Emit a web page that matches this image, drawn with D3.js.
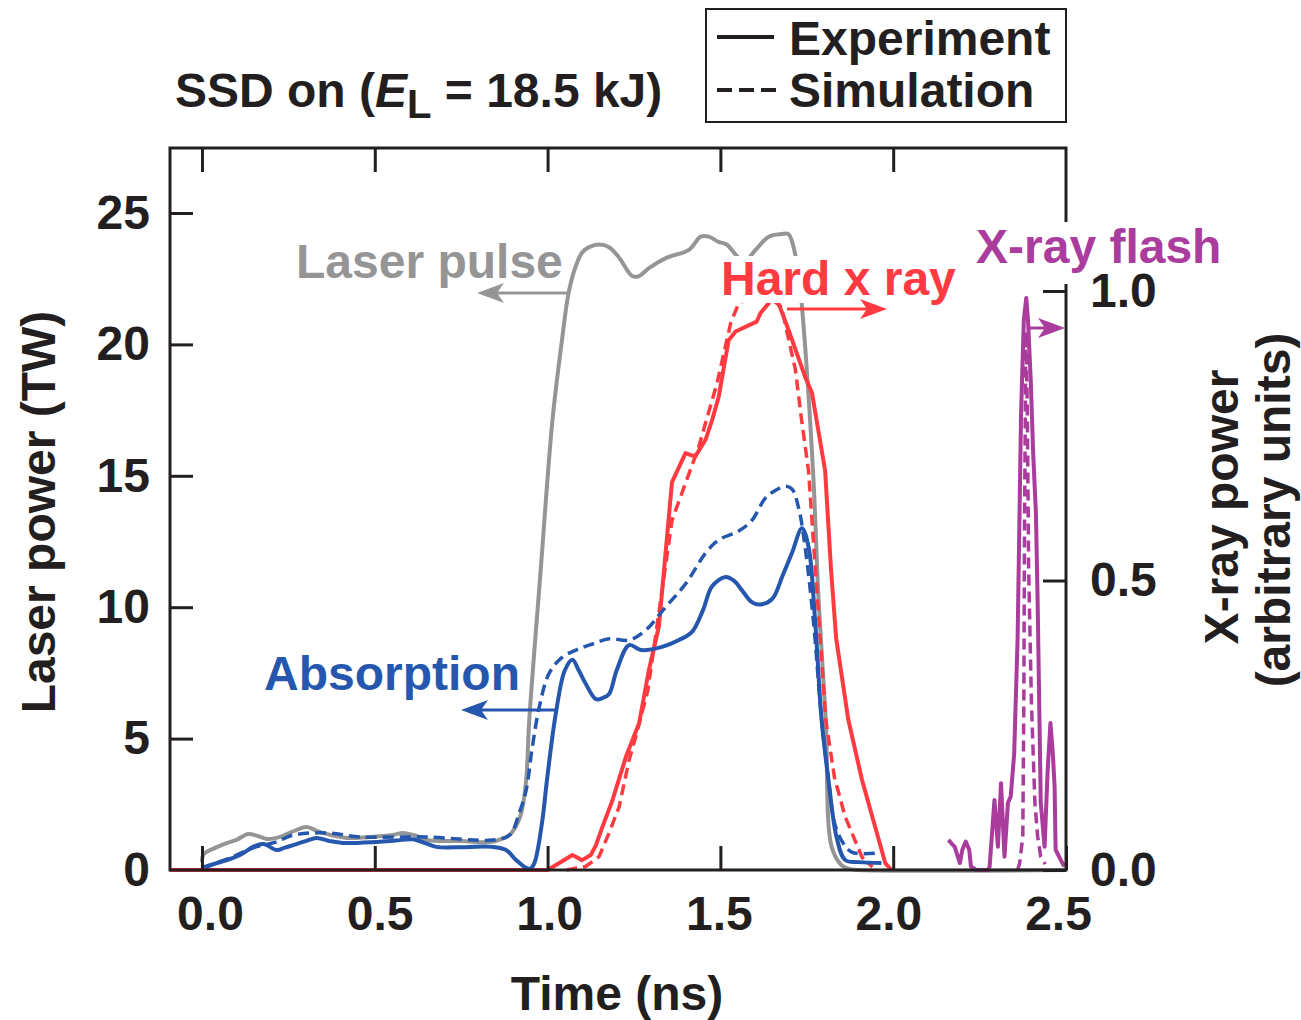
<!DOCTYPE html>
<html><head><meta charset="utf-8">
<script src="https://cdn.jsdelivr.net/npm/d3@7"></script>
<style>
body{margin:0;background:#fff}
text{font-family:"Liberation Sans",Arial,Helvetica,sans-serif;font-weight:bold}
</style>
</head><body>
<svg id="c" width="1301" height="1020"></svg>
<script>
// ---------- data ----------
const xTicks = [0, 0.5, 1.0, 1.5, 2.0, 2.5];
const xTickLabels = ["0.0", "0.5", "1.0", "1.5", "2.0", "2.5"];
const yLeftTicks = [0, 5, 10, 15, 20, 25];
const yRightTicks = [0, 0.5, 1.0];
const yRightTickLabels = ["0.0", "0.5", "1.0"];

// Laser pulse (TW), experiment
const laserExp = [[0.0,0.3],[0.005,0.6],[0.04,0.85],[0.073,1.03],[0.1,1.15],[0.134,1.37],[0.16,1.3],[0.188,1.18],[0.226,1.26],[0.26,1.45],[0.303,1.64],[0.33,1.5],[0.35,1.41],[0.419,1.22],[0.48,1.25],[0.552,1.33],[0.581,1.41],[0.62,1.3],[0.65,1.14],[0.75,1.1],[0.84,1.07],[0.87,1.2],[0.89,1.33],[0.91,1.7],[0.924,2.17],[0.938,3.42],[0.947,5.71],[0.98,11.4],[1.014,17.1],[1.042,20.2],[1.06,21.9],[1.077,22.8],[1.1,23.5],[1.12,23.7],[1.149,23.8],[1.178,23.7],[1.207,23.3],[1.245,22.6],[1.265,22.6],[1.293,22.9],[1.345,23.3],[1.409,23.6],[1.443,24.1],[1.466,24.1],[1.495,23.9],[1.518,23.8],[1.553,23.3],[1.573,23.2],[1.602,23.6],[1.64,24.1],[1.677,24.2],[1.697,24.2],[1.717,23.4],[1.726,22.7],[1.735,21.6],[1.768,15.2],[1.784,10.3],[1.805,5.7],[1.822,0.88],[1.85,0.19],[1.87,0.05],[1.9,0],[2.5,0]];

// Absorption (TW)
const absExp = [[0.01,0.1],[0.04,0.25],[0.072,0.38],[0.11,0.57],[0.148,0.88],[0.178,0.99],[0.216,0.76],[0.24,0.85],[0.264,0.95],[0.3,1.1],[0.332,1.22],[0.37,1.1],[0.408,1.03],[0.505,1.07],[0.56,1.12],[0.61,1.17],[0.65,1.0],[0.678,0.88],[0.76,0.87],[0.84,0.88],[0.88,0.76],[0.909,0.38],[0.938,0.08],[0.95,0.05],[0.962,0.27],[0.985,1.9],[0.998,3.4],[1.024,5.97],[1.05,7.6],[1.072,8.0],[1.09,7.6],[1.11,7.1],[1.14,6.5],[1.16,6.55],[1.178,6.7],[1.2,7.6],[1.236,8.56],[1.27,8.37],[1.331,8.49],[1.38,8.75],[1.418,9.06],[1.45,9.9],[1.476,10.8],[1.515,11.15],[1.54,11.0],[1.562,10.65],[1.59,10.2],[1.611,10.1],[1.649,10.3],[1.68,11.2],[1.707,12.06],[1.736,13.0],[1.755,12.3],[1.774,9.5],[1.793,5.7],[1.813,3.4],[1.836,1.26],[1.861,0.38],[1.9,0.3],[1.966,0.27]];
const absSim = [[0.0,0.1],[0.07,0.4],[0.15,0.85],[0.19,0.98],[0.216,1.07],[0.264,1.33],[0.36,1.41],[0.457,1.26],[0.65,1.26],[0.84,1.14],[0.89,1.33],[0.918,2.17],[0.938,3.04],[0.955,4.6],[0.976,6.2],[1.005,7.5],[1.043,8.1],[1.082,8.37],[1.13,8.6],[1.178,8.8],[1.236,8.75],[1.284,9.13],[1.341,10.0],[1.4,10.9],[1.457,12.06],[1.495,12.56],[1.553,12.9],[1.591,13.3],[1.63,14.15],[1.66,14.45],[1.688,14.6],[1.707,14.5],[1.726,13.8],[1.745,12.3],[1.769,9.5],[1.793,5.7],[1.813,3.4],[1.83,1.8],[1.85,1.14],[1.88,0.68],[1.96,0.65]];

// Hard x ray (arbitrary units, right axis)
const hxrExp = [[-0.0925,0],[1.0,0],[1.034,0.012],[1.072,0.026],[1.1,0.017],[1.125,0.026],[1.14,0.043],[1.159,0.075],[1.188,0.121],[1.227,0.196],[1.265,0.254],[1.293,0.345],[1.322,0.42],[1.36,0.67],[1.399,0.72],[1.427,0.714],[1.457,0.743],[1.476,0.777],[1.495,0.817],[1.524,0.915],[1.544,0.93],[1.605,0.947],[1.616,0.962],[1.64,0.979],[1.655,1.0],[1.668,0.979],[1.697,0.933],[1.745,0.852],[1.765,0.824],[1.803,0.69],[1.82,0.52],[1.835,0.4],[1.87,0.26],[1.91,0.155],[1.95,0.07],[1.977,0.012],[1.995,0]];
const hxrSim = [[1.054,0],[1.11,0.006],[1.149,0.023],[1.178,0.064],[1.207,0.109],[1.236,0.19],[1.255,0.23],[1.29,0.31],[1.322,0.444],[1.36,0.604],[1.41,0.686],[1.437,0.73],[1.457,0.772],[1.49,0.84],[1.53,0.945],[1.553,0.979],[1.6,0.99],[1.64,0.99],[1.677,0.972],[1.717,0.864],[1.735,0.777],[1.755,0.69],[1.765,0.604],[1.805,0.259],[1.83,0.16],[1.861,0.092],[1.91,0.022],[1.94,0.005]];

// X-ray flash (arbitrary units, right axis)
const flashExp = [[2.16,0.052],[2.17,0.045],[2.178,0.04],[2.193,0.012],[2.2,0.035],[2.21,0.049],[2.22,0.035],[2.225,0.006],[2.24,0],[2.275,0],[2.279,0.006],[2.293,0.121],[2.303,0.04],[2.312,0.15],[2.322,0.023],[2.332,0.116],[2.34,0.127],[2.35,0.2],[2.36,0.40],[2.37,0.789],[2.378,0.95],[2.385,0.988],[2.39,0.95],[2.398,0.846],[2.405,0.72],[2.413,0.616],[2.418,0.461],[2.427,0.116],[2.438,0.04],[2.447,0.173],[2.455,0.254],[2.462,0.2],[2.467,0.144],[2.47,0.035],[2.485,0.017],[2.495,0.006]];
const flashSim = [[2.36,0],[2.366,0.012],[2.375,0.058],[2.378,0.288],[2.38,0.6],[2.384,0.93],[2.388,0.8],[2.392,0.518],[2.4,0.288],[2.41,0.116],[2.418,0.058],[2.427,0.023],[2.44,0.01]];

// ---------- chart ----------
const svg = d3.select("#c");
const L = 170, R = 1066, T = 148, B = 870;
const INK = "#231f20";
const GRAY = "#959595", RED = "#ff3a40", BLUE = "#2457ad", PURPLE = "#a93c9c";
const FS = 48;

const x = d3.scaleLinear().domain([-0.0925, 2.5]).range([L, R]);
const yL = d3.scaleLinear().domain([0, 25]).range([B, 213]);
const yR = d3.scaleLinear().domain([0, 1]).range([B, 291]);

const smoothL = d3.line().curve(d3.curveCatmullRom.alpha(0.5)).x(d => x(d[0])).y(d => yL(d[1]));
const lineR = d3.line().x(d => x(d[0])).y(d => yR(d[1]));

function drawSeries(data, gen, color, dashed, w) {
  svg.append("path").datum(data).attr("d", gen)
    .attr("fill", "none").attr("stroke", color)
    .attr("stroke-width", w || 4)
    .attr("stroke-linejoin", "round")
    .attr("stroke-dasharray", dashed ? "11,6" : null);
}

drawSeries(laserExp, smoothL, GRAY, false);
drawSeries(hxrSim, lineR, RED, true, 3.5);
drawSeries(hxrExp, lineR, RED, false);
drawSeries(absSim, smoothL, BLUE, true, 3.5);
drawSeries(absExp, smoothL, BLUE, false);
drawSeries(flashSim, lineR, PURPLE, true, 3.5);
drawSeries(flashExp, lineR, PURPLE, false);

// axes
function styleAxis(g) {
  g.select(".domain").remove();
  g.selectAll(".tick line").attr("stroke", INK).attr("stroke-width", 3);
  g.selectAll(".tick text").attr("fill", INK).style("font-size", FS + "px")
    .style("font-family", '"Liberation Sans",Arial,Helvetica,sans-serif').style("font-weight", "bold");
}
svg.append("g").attr("transform", `translate(0,${B})`)
  .call(d3.axisBottom(x).tickValues(xTicks).tickFormat((d, i) => xTickLabels[i]).tickSize(-24).tickSizeOuter(0).tickPadding(26))
  .call(styleAxis).selectAll(".tick text").attr("dx", d => 8 - 6.4 * d);
svg.append("g").attr("transform", `translate(0,${T})`)
  .call(d3.axisTop(x).tickValues(xTicks.filter(v => v < 2.5)).tickFormat("").tickSize(-24).tickSizeOuter(0))
  .call(styleAxis);
svg.append("g").attr("transform", `translate(${L},0)`)
  .call(d3.axisLeft(yL).tickValues(yLeftTicks.filter(v => v > 0)).tickSize(-23).tickSizeOuter(0).tickPadding(20))
  .call(styleAxis);
svg.append("g").attr("transform", `translate(${L},0)`)
  .call(d3.axisLeft(yL).tickValues([0]).tickSize(0).tickSizeOuter(0).tickPadding(20))
  .call(styleAxis);
svg.append("g").attr("transform", `translate(${R},0)`)
  .call(d3.axisRight(yR).tickValues(yRightTicks).tickFormat((d, i) => yRightTickLabels[i]).tickSize(-23).tickSizeOuter(0).tickPadding(24))
  .call(styleAxis);

// frame
svg.append("rect").attr("x", L).attr("y", T).attr("width", R - L).attr("height", B - T)
  .attr("fill", "none").attr("stroke", INK).attr("stroke-width", 3);

// labels with white backgrounds
function label(txt, tx, ty, color, bg) {
  if (bg) svg.append("rect").attr("x", bg[0]).attr("y", bg[1]).attr("width", bg[2]).attr("height", bg[3]).attr("fill", "#fff");
  svg.append("text").attr("x", tx).attr("y", ty).attr("fill", color).style("font-size", FS + "px").text(txt);
}
function arrow(x1, x2, yy, color) {
  const dir = x2 > x1 ? 1 : -1;
  svg.append("line").attr("x1", x1).attr("x2", x2 - dir * 20).attr("y1", yy).attr("y2", yy)
    .attr("stroke", color).attr("stroke-width", 3);
  svg.append("path").attr("d", `M${x2},${yy} L${x2 - dir * 27},${yy - 10} L${x2 - dir * 20},${yy} L${x2 - dir * 27},${yy + 10} Z`)
    .attr("fill", color);
}
label("Laser pulse", 296, 278, GRAY);
arrow(567, 477, 293, GRAY);
label("Hard x ray", 721, 295, RED, [716, 256, 242, 47]);
arrow(787, 887, 309, RED);
label("X-ray flash", 976, 263, PURPLE, [1055, 222, 20, 62]);
arrow(1030, 1065, 328, PURPLE);
label("Absorption", 264, 690, BLUE);
arrow(558, 461, 710, BLUE);

// axis titles
svg.append("text").attr("x", 617).attr("y", 1010).attr("text-anchor", "middle").attr("fill", INK)
  .style("font-size", FS + "px").text("Time (ns)");
svg.append("text").attr("transform", "translate(55,512) rotate(-90)").attr("text-anchor", "middle").attr("fill", INK)
  .style("font-size", FS + "px").text("Laser power (TW)");
svg.append("text").attr("transform", "translate(1238,507) rotate(-90)").attr("text-anchor", "middle").attr("fill", INK)
  .style("font-size", FS + "px").text("X-ray power");
svg.append("text").attr("transform", "translate(1290,510) rotate(-90)").attr("text-anchor", "middle").attr("fill", INK)
  .style("font-size", FS + "px").text("(arbitrary units)");

// title
const title = svg.append("text").attr("x", 175).attr("y", 107).attr("fill", INK).style("font-size", FS + "px");
title.append("tspan").text("SSD on (");
title.append("tspan").style("font-style", "italic").text("E");
title.append("tspan").attr("dy", 11).style("font-size", "40px").text("L");
title.append("tspan").attr("dy", -11).text(" = 18.5 kJ)");

// legend
svg.append("rect").attr("x", 706).attr("y", 9).attr("width", 360).attr("height", 113)
  .attr("fill", "#fff").attr("stroke", INK).attr("stroke-width", 2);
svg.append("line").attr("x1", 717).attr("x2", 774).attr("y1", 37).attr("y2", 37).attr("stroke", INK).attr("stroke-width", 4);
svg.append("line").attr("x1", 717).attr("x2", 778).attr("y1", 90).attr("y2", 90).attr("stroke", INK).attr("stroke-width", 4).attr("stroke-dasharray", "15,7");
svg.append("text").attr("x", 789).attr("y", 55).attr("fill", INK).style("font-size", FS + "px").text("Experiment");
svg.append("text").attr("x", 789).attr("y", 107).attr("fill", INK).style("font-size", FS + "px").text("Simulation");
</script>
</body></html>
